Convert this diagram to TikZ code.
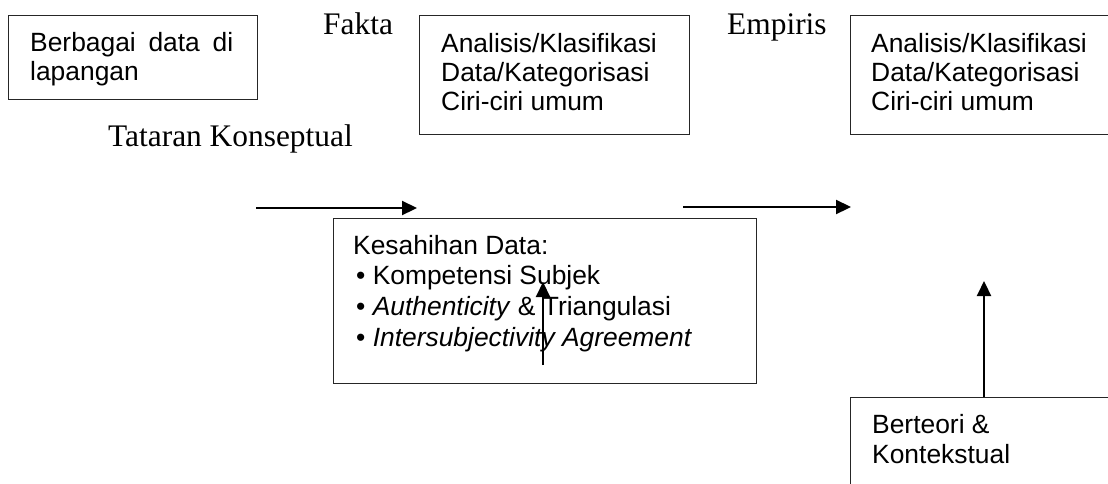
\documentclass[tikz,border=0pt]{standalone}
\usepackage{fontspec}
\setmainfont{Liberation Serif}
\newfontfamily\arialfont{Liberation Sans}
\usetikzlibrary{arrows.meta}
\tikzset{
  box/.style={draw=black!85, line width=1.2pt, inner sep=0pt, anchor=north west},
  sanstext/.style={inner sep=0pt, anchor=base west, align=left, font=\arialfont\fontsize{26.4}{29.3}\selectfont},
  seriftext/.style={inner sep=0pt, anchor=base west, font=\fontsize{31.4}{36}\selectfont},
  arr/.style={line width=2.2pt, -{Triangle[length=15pt,width=14pt]}}
}
\begin{document}
\begin{tikzpicture}[x=1pt,y=-1pt]
\path[use as bounding box] (0,0) rectangle (1108,483);
\clip (0,0) rectangle (1108,483);
% boxes
\node[box, minimum width=249pt, minimum height=84pt] (b1) at (8,15) {};
\node[box, minimum width=270pt, minimum height=119pt] (b2) at (419,15) {};
\node[box, minimum width=290pt, minimum height=119pt] (b3) at (850,15) {};
\node[box, minimum width=423pt, minimum height=165pt] (b4) at (333,218) {};
\node[box, minimum width=290pt, minimum height=120pt] (b5) at (850,397) {};
% texts in boxes (base anchor = baseline of last line)
\node[sanstext] (t1) at (30,80.3) {\makebox[203pt][s]{Berbagai data di}\\lapangan};
\node[sanstext] (t2) at (441,110.6) {Analisis/Klasifikasi\\Data/Kategorisasi\\Ciri-ciri umum};
\node[sanstext] (t3) at (871,110.6) {Analisis/Klasifikasi\\Data/Kategorisasi\\Ciri-ciri umum};
\node[sanstext, font=\arialfont\fontsize{26.4}{30.9}\selectfont] (t4) at (353,346.7) {Kesahihan Data:\\
\hspace*{3pt}\textbullet\ Kompetensi Subjek\\
\hspace*{3pt}\textbullet\ \textit{Authenticity} \& Triangulasi\\
\hspace*{3pt}\textbullet\ \textit{Intersubjectivity Agreement}};
\node[sanstext, font=\arialfont\fontsize{26.4}{30}\selectfont] (t5) at (872,463) {Berteori \&\\Kontekstual};
% free texts
\node[seriftext] (fakta) at (323,34) {Fakta};
\node[seriftext] (empiris) at (727,34) {Empiris};
\node[seriftext] (tataran) at (108,146) {Tataran Konseptual};
% arrows
\coordinate (a1s) at (256,208);
\coordinate (a1e) at (417,208);
\coordinate (a2s) at (683,207);
\coordinate (a2e) at (851,207);
\coordinate (a3s) at (543,365);
\coordinate (a3e) at (543,282);
\coordinate (a4s) at (984,397);
\coordinate (a4e) at (984,281);
\draw[arr] (a1s) -- (a1e);
\draw[arr] (a2s) -- (a2e);
\draw[arr] (a3s) -- (a3e);
\draw[arr] (a4s) -- (a4e);
\end{tikzpicture}
\end{document}
